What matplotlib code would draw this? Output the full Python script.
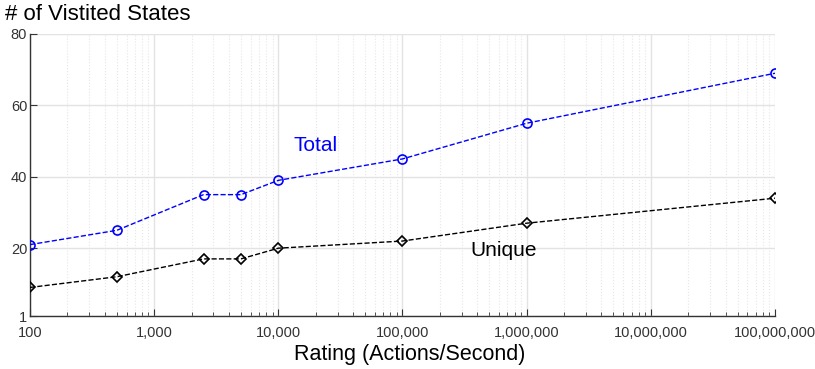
import matplotlib.pyplot as plt
from matplotlib.ticker import FuncFormatter, LogLocator, NullFormatter

plt.rcParams['font.family'] = ['Liberation Sans', 'DejaVu Sans']

rates = [100, 500, 2500, 5000, 10000, 100000, 1000000, 100000000]
total = [21, 25, 35, 35, 39, 45, 55, 69]
unique = [9, 12, 17, 17, 20, 22, 27, 34]
y_ticks = [1, 20, 40, 60, 80]

fig = plt.figure(figsize=(8.15, 3.69), dpi=100)
ax = fig.add_axes([0.0368, 0.1436, 0.9141, 0.7643])

ax.plot(rates, total, linestyle='--', color='blue', marker='o', markersize=6.5,
        markerfacecolor='none', markeredgewidth=1.2, linewidth=1, zorder=3)
ax.plot(rates, unique, linestyle='--', color='black', marker='D', markersize=5.5,
        markerfacecolor='none', markeredgewidth=1.2, linewidth=1, zorder=3)

ax.set_xscale('log')
ax.set_xlim(100, 1e8)
ax.set_ylim(1, 80)
ax.set_yticks(y_ticks)
ax.xaxis.set_major_locator(LogLocator(base=10, numticks=20))
ax.xaxis.set_minor_locator(LogLocator(base=10, subs=range(2, 10), numticks=100))
ax.xaxis.set_major_formatter(FuncFormatter(lambda v, p: f'{int(round(v)):,}'))
ax.xaxis.set_minor_formatter(NullFormatter())

# matlab-ish grid: solid majors, dotted minors
ax.grid(True, which='major', color='#e3e3e3', linewidth=1, linestyle='-')
ax.grid(True, which='minor', axis='x', color='#e6e6e6', linewidth=0.8, linestyle=':')
ax.set_axisbelow(True)

for side in ('top', 'right'):
    ax.spines[side].set_visible(False)
for side in ('left', 'bottom'):
    ax.spines[side].set_color('#333333')
    ax.spines[side].set_linewidth(1)
ax.tick_params(which='both', direction='in', colors='#333333', labelsize=10.5)
ax.tick_params(which='major', length=5)
ax.tick_params(which='minor', length=3)
ax.tick_params(axis='x', pad=7)
ax.tick_params(axis='y', pad=2)

ax.text(20000, 48.8, 'Total', color='blue', fontsize=15, ha='center', va='center')
ax.text(650000, 19.4, 'Unique', color='black', fontsize=15, ha='center', va='center')

ax.set_xlabel('Rating (Actions/Second)', fontsize=15.5, labelpad=3)
ax.xaxis.label.set_x(0.51)
fig.text(0.006, 0.96, '# of Vistited States', fontsize=16, ha='left', va='center')

fig.savefig('out.png', dpi=100)
